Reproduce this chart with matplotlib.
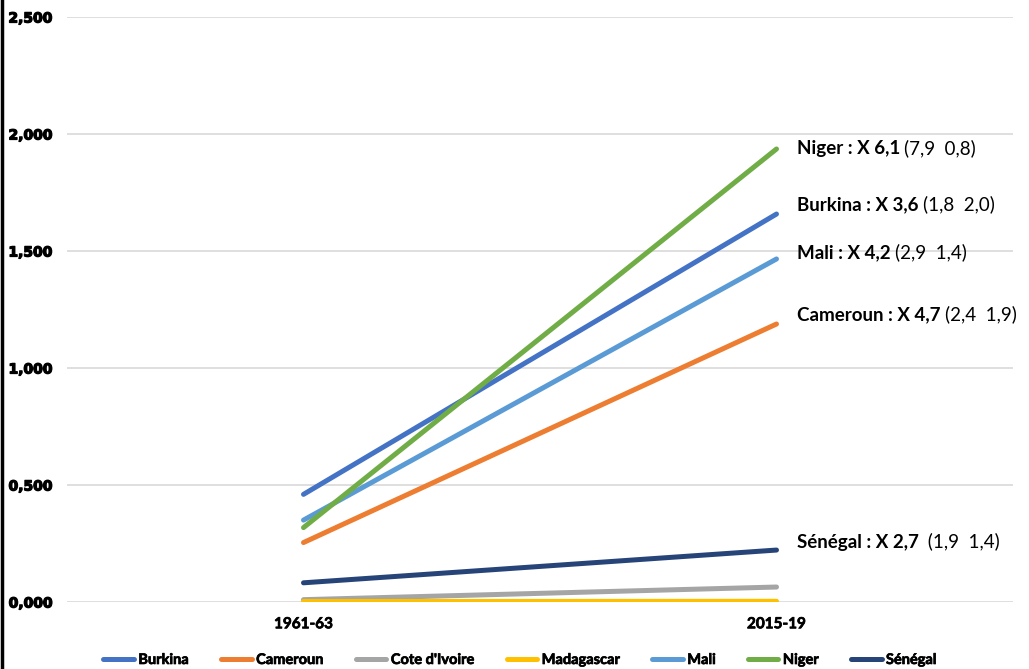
import matplotlib
matplotlib.use("Agg")
import matplotlib.pyplot as plt
import matplotlib.patheffects as pe
from matplotlib.lines import Line2D

periods = ["1961-63", "2015-19"]
countries = ["Burkina", "Cameroun", "Cote d'Ivoire", "Madagascar", "Mali", "Niger", "Sénégal"]
burkina = [0.46, 1.658]
cameroun = [0.254, 1.188]
cote_divoire = [0.010, 0.064]
madagascar = [0.002, 0.003]
mali = [0.350, 1.466]
niger = [0.318, 1.936]
senegal = [0.082, 0.222]
series = [burkina, cameroun, cote_divoire, madagascar, mali, niger, senegal]
colors = ["#4472C4", "#ED7D31", "#A5A5A5", "#FFC000", "#5B9BD5", "#70AD47", "#264478"]

y_ticks = [0.0, 0.5, 1.0, 1.5, 2.0, 2.5]
y_tick_labels = ["0,000", "0,500", "1,000", "1,500", "2,000", "2,500"]

# growth labels: country, bold factor, regular detail, label height
label_names = ["Niger", "Burkina", "Mali", "Cameroun", "Sénégal"]
label_factors = ["X 6,1", "X 3,6", "X 4,2", "X 4,7", "X 2,7"]
label_details = ["(7,9  0,8)", "(1,8  2,0)", "(2,9  1,4)", "(2,4  1,9)", " (1,9  1,4)"]
label_y = [1.936, 1.697, 1.491, 1.226, 0.256]

plt.rcParams["font.family"] = ["Lato", "DejaVu Sans"]

fig = plt.figure(figsize=(10.29, 6.69), dpi=100)
ax = fig.add_axes([67 / 1029, 1 - 602 / 669, 946 / 1029, 585 / 669])

x = list(range(len(periods)))
for name, vals, c in zip(countries, series, colors):
    ax.plot(x, vals, color=c, lw=3.6, solid_capstyle="round", label=name)

heavy = [pe.withStroke(linewidth=0.9, foreground="black")]
semi = [pe.withStroke(linewidth=0.5, foreground="black")]

ax.set_xlim(-0.5, 1.5)
ax.set_ylim(0, 2.5)
ax.tick_params(length=0)
ax.tick_params(axis="y", pad=10.5)
ax.tick_params(axis="x", pad=11)
ax.set_yticks(y_ticks)
ax.set_yticklabels(y_tick_labels, fontweight="bold", fontsize=10, family=["DejaVu Sans"],
                   path_effects=heavy)
ax.set_xticks(x)
ax.set_xticklabels(periods, fontweight="bold", fontsize=11, path_effects=semi)
ax.grid(axis="y", color="#D9D9D9", lw=1.2)
ax.set_axisbelow(True)
for s in ax.spines.values():
    s.set_visible(False)

for name, fac, det, yy in zip(label_names, label_factors, label_details, label_y):
    t = ax.text(1.043, yy, f"{name} : {fac}", fontsize=13.5, fontweight="bold",
                va="center", ha="left")
    ax.annotate(det, xy=(1, 0), xycoords=t, xytext=(3, 0), textcoords="offset points",
                fontsize=13.5, va="bottom", ha="left")

handles = [Line2D([], [], color=c, lw=3.6, solid_capstyle="round") for c in colors]
leg = fig.legend(handles, countries, loc="center", bbox_to_anchor=(520 / 1029, 1 - 660 / 669),
                 ncol=7, frameon=False, handlelength=2.1, handletextpad=0.3,
                 columnspacing=2.2, prop={"weight": "bold", "size": 10.5})
for txt in leg.get_texts():
    txt.set_path_effects(semi)

# left edge rule
fig.add_artist(Line2D([1.5 / 1029, 1.5 / 1029], [0, 1], transform=fig.transFigure,
                      color="black", lw=2.5))

fig.savefig("out.png", dpi=100)
